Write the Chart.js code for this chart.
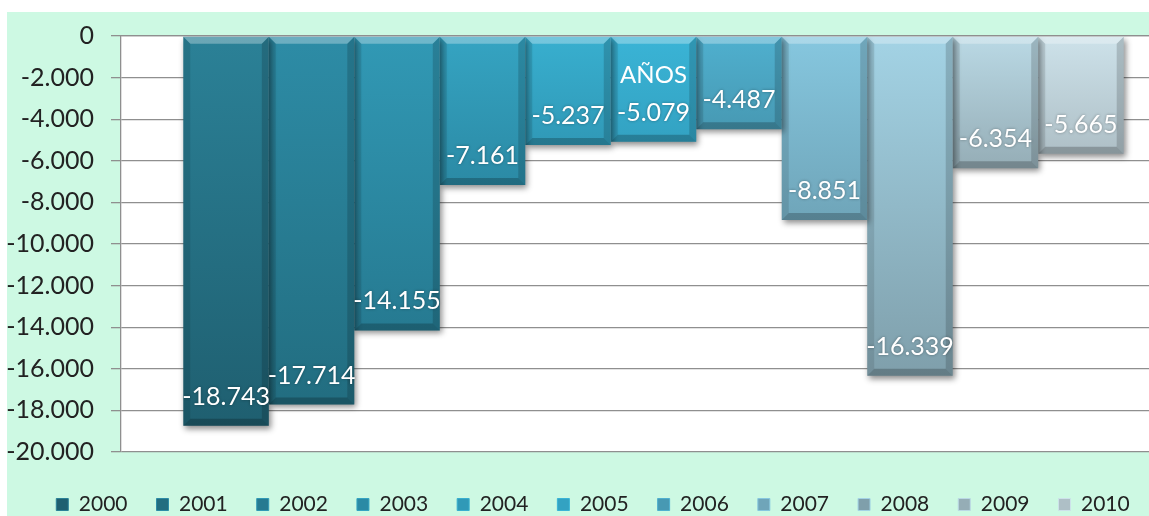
<!DOCTYPE html>
<html>
<head>
<meta charset="utf-8">
<script src="https://cdn.jsdelivr.net/npm/chart.js@4/dist/chart.umd.min.js"></script>
<style>
    html, body { margin: 0; padding: 0; background: #fff; overflow: hidden; width: 1149px; height: 516px; }
    #bg { position: absolute; left: 7px; top: 12px; width: 1300px; height: 520px; background: #cdf9e3; }
    #chart1 { position: absolute; left: 0; top: 12px; }
</style>
</head>
<body>
<div id="bg"></div>
<canvas id="chart1" width="1220" height="513"></canvas>
<script>
// data
const years = ['2000', '2001', '2002', '2003', '2004', '2005', '2006', '2007', '2008', '2009', '2010'];
const saldo = [-18743, -17714, -14155, -7161, -5237, -5079, -4487, -8851, -16339, -6354, -5665];
const categories = ['AÑOS'];
const yMin = -20000, yMax = 0, yStep = 2000;

// bar colours, top -> bottom
const topColors = ['#2b8197', '#2d8ca6', '#3199b5', '#35a4c2', '#38afcf', '#3ab4d6', '#4fb0cf', '#86c7df', '#a3d3e5', '#bad9e5', '#cde2ea'];
const bottomColors = ['#1f5f70', '#226d80', '#267a91', '#2b8aa5', '#3099b7', '#33a2c2', '#4799b3', '#6fa5b9', '#7f9fab', '#95adb6', '#aebfc6'];

Chart.defaults.font.family = 'Lato';

function formatMiles(v) {
    const s = String(Math.abs(v)).replace(/\B(?=(\d{3})+(?!\d))/g, '.');
    return (v < 0 ? '-' : '') + s;
}

function barFill(ctx, i) {
    const chart = ctx.chart;
    const ys = chart.scales.y;
    if (ctx.type !== 'data' || !chart.chartArea || !ys) return bottomColors[i];
    const t = ys.getPixelForValue(0);
    const b = ys.getPixelForValue(ctx.raw);
    const g = chart.ctx.createLinearGradient(0, t, 0, b);
    g.addColorStop(0, topColors[i]);
    g.addColorStop(1, bottomColors[i]);
    return g;
}

function poly(c, pts, fill) {
    c.beginPath();
    c.moveTo(pts[0][0], pts[0][1]);
    for (let k = 1; k < pts.length; k++) c.lineTo(pts[k][0], pts[k][1]);
    c.closePath();
    c.fillStyle = fill;
    c.fill();
}

// white plot area
const plotBg = {
    id: 'plotBg',
    beforeDraw(chart) {
        const {ctx, chartArea: a} = chart;
        ctx.save();
        ctx.fillStyle = '#ffffff';
        ctx.fillRect(a.left, a.top, a.right - a.left, a.bottom - a.top);
        ctx.restore();
    }
};

// shadow, bevel and value labels
const barDeco = {
    id: 'barDeco',
    beforeDatasetsDraw(chart) {
        const c = chart.ctx;
        c.save();
        c.shadowColor = 'rgba(0,0,0,0.45)';
        c.shadowBlur = 6;
        c.shadowOffsetX = 2;
        c.shadowOffsetY = 3;
    },
    afterDatasetsDraw(chart) {
        const c = chart.ctx;
        c.restore();
        const e = 7;
        chart.data.datasets.forEach((ds, i) => {
            chart.getDatasetMeta(i).data.forEach(bar => {
                const p = bar.getProps(['x', 'y', 'base', 'width'], true);
                const l = p.x - p.width / 2, r = p.x + p.width / 2;
                const t = Math.min(p.y, p.base), b = Math.max(p.y, p.base);
                poly(c, [[l, t], [r, t], [r - e, t + e], [l + e, t + e]], 'rgba(255,255,255,0.30)');
                poly(c, [[l, t], [l + e, t + e], [l + e, b - e], [l, b]], 'rgba(0,0,0,0.10)');
                poly(c, [[r, t], [r - e, t + e], [r - e, b - e], [r, b]], 'rgba(0,0,0,0.16)');
                poly(c, [[l, b], [l + e, b - e], [r - e, b - e], [r, b]], 'rgba(0,0,0,0.22)');
            });
        });
        c.save();
        c.font = '25px Lato';
        c.fillStyle = '#ffffff';
        c.textAlign = 'center';
        c.textBaseline = 'middle';
        c.shadowColor = 'rgba(0,0,0,0.35)';
        c.shadowBlur = 3;
        chart.data.datasets.forEach((ds, i) => {
            const bar = chart.getDatasetMeta(i).data[0];
            const p = bar.getProps(['x', 'y'], true);
            c.fillText(formatMiles(ds.data[0]), p.x, p.y - 29);
        });
        c.restore();
    }
};

const chart1 = document.getElementById('chart1');
new Chart(chart1, {
    type: 'bar',
    data: {
        labels: categories,
        datasets: years.map((y, i) => ({
            label: y,
            data: [saldo[i]],
            backgroundColor: ctx => barFill(ctx, i),
            borderWidth: 0,
            categoryPercentage: 0.883,
            barPercentage: 1
        }))
    },
    options: {
        responsive: false,
        animation: false,
        devicePixelRatio: 1,
        layout: {padding: {left: 0, right: 34, top: 24, bottom: 0}},
        plugins: {
            tooltip: {enabled: false},
            legend: {
                position: 'bottom',
                title: {display: true, text: '', padding: 0, font: {size: 13, lineHeight: 1}},
                labels: {
                    color: '#222',
                    font: {size: 21},
                    boxWidth: 12,
                    boxHeight: 12,
                    padding: 29,
                    generateLabels: chart => Chart.defaults.plugins.legend.labels.generateLabels(chart)
                        .map((it, i) => Object.assign(it, {fillStyle: bottomColors[i], strokeStyle: topColors[i], lineWidth: 1}))
                }
            }
        },
        scales: {
            x: {
                position: {y: 0},
                grid: {display: false, drawTicks: false},
                border: {display: true, color: '#8f8f8f', width: 1.3, z: 1},
                ticks: {color: '#ffffff', font: {size: 24}, padding: 25, z: 1}
            },
            y: {
                min: yMin,
                max: yMax,
                afterFit: scale => {
                    scale.width = 121;
                    scale.paddingTop = 0;
                    scale.paddingBottom = 0;
                },
                grid: {color: '#8f8f8f', lineWidth: 1.3, tickLength: 10},
                border: {display: true, color: '#8f8f8f', width: 1.3},
                ticks: {
                    stepSize: yStep,
                    color: '#222',
                    font: {size: 25},
                    padding: 17,
                    callback: v => formatMiles(v)
                }
            }
        }
    },
    plugins: [plotBg, barDeco]
});
</script>
</body>
</html>
